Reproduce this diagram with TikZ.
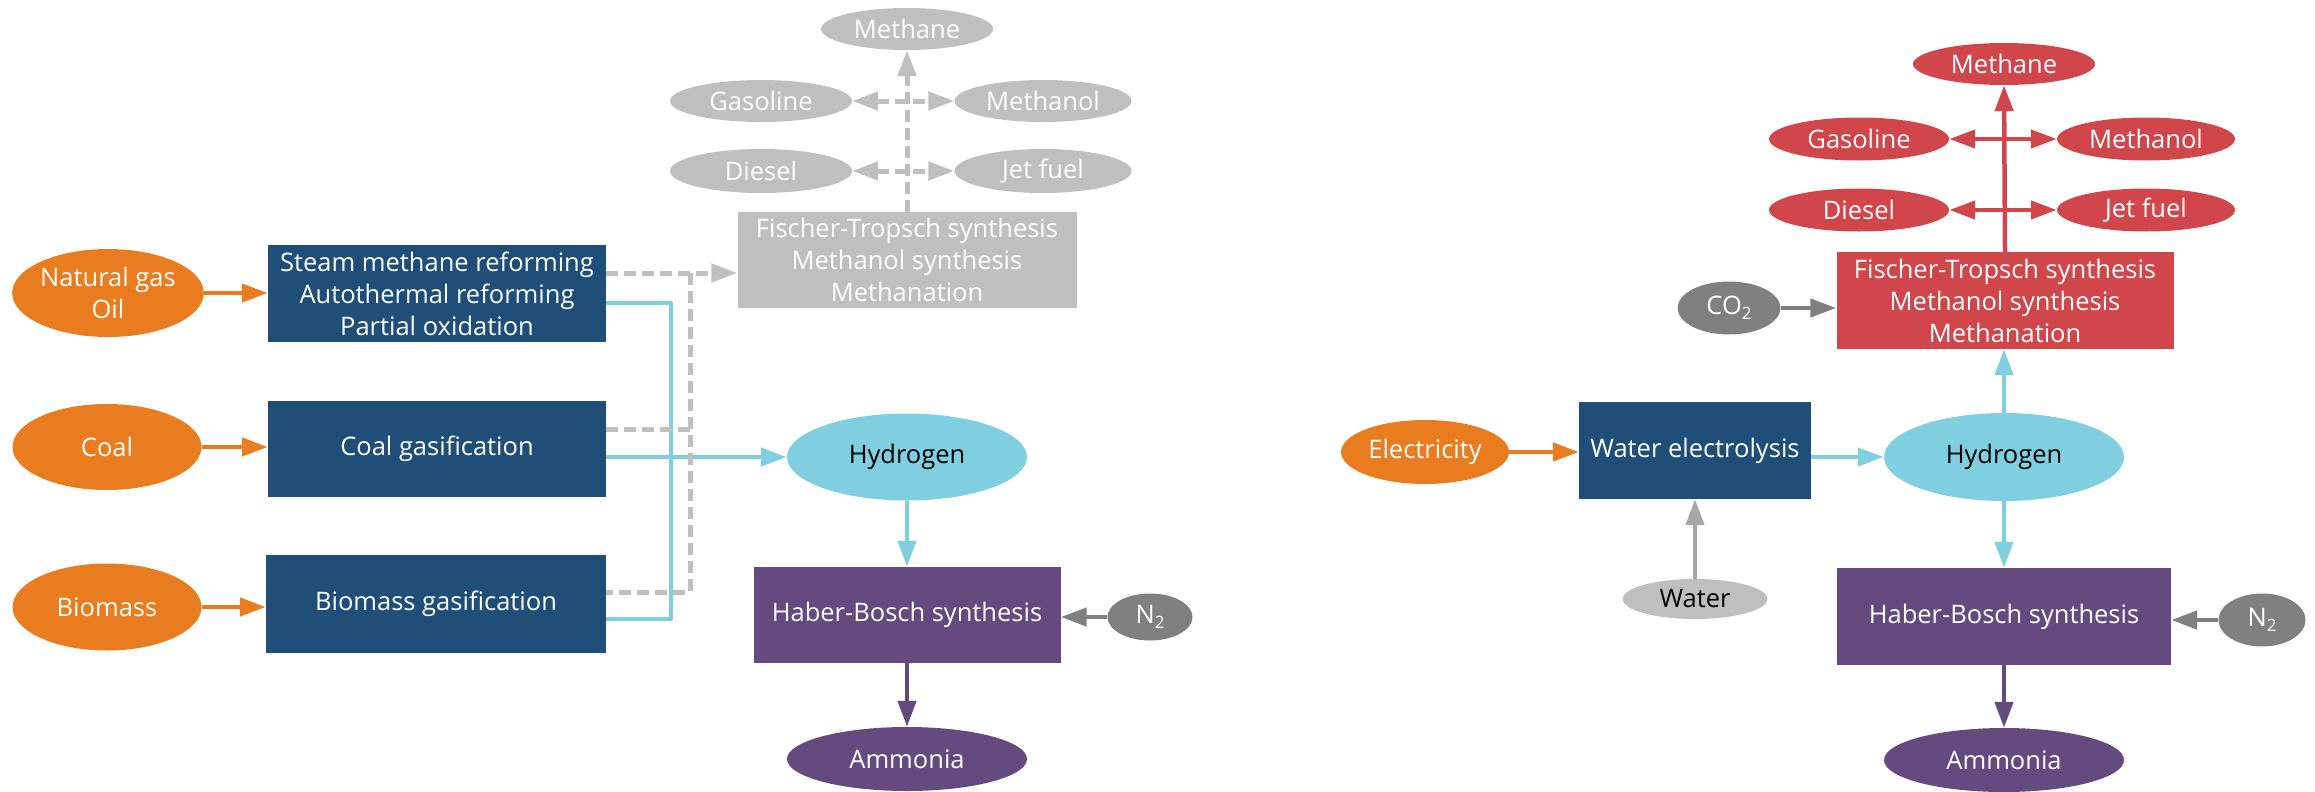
\documentclass[tikz,border=0pt]{standalone}
\usepackage{fontspec}
\setmainfont{Open Sans}
\usetikzlibrary{arrows.meta,shapes.geometric}
\definecolor{orng}{HTML}{E97C1E}
\definecolor{dblue}{HTML}{1F4E79}
\definecolor{lblue}{HTML}{7FCFE1}
\definecolor{purp}{HTML}{644A7E}
\definecolor{redc}{HTML}{D1464B}
\definecolor{lgray}{HTML}{BFBFBF}
\definecolor{mgray}{HTML}{808080}
\definecolor{agray}{HTML}{A6A6A6}
\newcommand{\lowsub}[1]{\raisebox{-0.35ex}{\fontsize{17}{20}\selectfont #1}}
\begin{document}
\begin{tikzpicture}[x=1pt,y=-1pt,
  every node/.style={font=\fontsize{25.5}{32}\selectfont, align=center, inner sep=0pt},
  oval/.style={ellipse, text=white},
  box/.style={rectangle, text=white},
  sz/.style 2 args={minimum width=#1pt, minimum height=#2pt},
  tip/.style={-{Triangle[length=26pt,width=18pt]}},
  btip/.style={{Triangle[length=26pt,width=18pt]}-{Triangle[length=26pt,width=18pt]}},
  ln/.style={line width=4.5pt},
  gdash/.style={line width=5pt, lgray, dash pattern=on 12pt off 6pt}]
\useasboundingbox (0,0) rectangle (2315,792);

% ---------- left panel ----------
\node[oval, fill=orng, sz={191}{88}] (ng) at (108,293) {Natural gas\\Oil};
\node[oval, fill=orng, sz={189}{86}] (coal) at (107,447) {Coal};
\node[oval, fill=orng, sz={189}{87}] (bio) at (107,607) {Biomass};

\node[box, fill=dblue, sz={338}{97}] (smr) at (437,293.5) {Steam methane reforming\\Autothermal reforming\\Partial oxidation};
\node[box, fill=dblue, sz={338}{96}] (cg) at (437,449) {Coal gasification};
\node[box, fill=dblue, sz={340}{98}] (bg) at (436,604) {Biomass gasification};

\node[box, fill=lgray, sz={339}{96}] (ftl) at (907,260) {Fischer-Tropsch synthesis\\Methanol synthesis\\Methanation};
\node[oval, fill=lgray, sz={172}{42}] (mel) at (907,29) {Methane};
\node[oval, fill=lgray, sz={182}{42}] (gal) at (761,101) {Gasoline};
\node[oval, fill=lgray, sz={177}{42}] (mol) at (1043,101) {Methanol};
\node[oval, fill=lgray, sz={182}{44}] (dil) at (761,171) {Diesel};
\node[oval, fill=lgray, sz={177}{44}] (jfl) at (1043,171) {Jet fuel};

\node[oval, fill=lblue, text=black, sz={240}{87}] (h2l) at (907,457) {Hydrogen};
\node[box, fill=purp, sz={307}{96}] (hbl) at (907,615) {Haber-Bosch synthesis};
\node[oval, fill=mgray, sz={85}{47}] (n2l) at (1150,617) {N\lowsub{2}};
\node[oval, fill=purp, sz={240}{64}] (aml) at (907,759) {Ammonia};

\coordinate (bj1) at (671,303);
\coordinate (bj2) at (671,619);
\coordinate (gj1) at (690,273);
\coordinate (gj2) at (690,592);
\coordinate (gj3) at (690,429);

\draw[ln, orng, tip] (ng.east) -- (ng.east -| smr.west);
\draw[ln, orng, tip] (coal.east) -- (coal.east -| cg.west);
\draw[ln, orng, tip] (bio.east) -- (bio.east -| bg.west);

\draw[ln, lblue, line join=round] (smr.east |- bj1) -- (bj1) -- (bj2) -- (bg.east |- bj2);
\draw[ln, lblue, tip] (cg.east |- h2l.west) -- (h2l.west);

\draw[gdash, tip] (smr.east |- gj1) -- (ftl.west |- gj1);
\draw[gdash] (gj1) -- (gj2) -- (bg.east |- gj2);
\draw[gdash] (cg.east |- gj3) -- (gj3);

\draw[gdash, tip] (ftl.north) -- (mel.south);
\draw[gdash, btip] (gal.east) -- (mol.west);
\draw[gdash, btip] (dil.east) -- (jfl.west);

\draw[ln, lblue, tip] (h2l.south) -- (hbl.north);
\draw[ln, purp, tip] (hbl.south) -- (aml.north);
\draw[ln, mgray, tip] (n2l.west) -- (n2l.west -| hbl.east);

% ---------- right panel ----------
\node[oval, fill=orng, sz={168}{64}] (elec) at (1425,452) {Electricity};
\node[box, fill=dblue, sz={232}{97}] (we) at (1695,450.5) {Water electrolysis};
\node[oval, fill=lgray, text=black, sz={145}{40}] (water) at (1695,599) {Water};
\node[oval, fill=lblue, text=black, sz={240}{88}] (h2r) at (2004,457) {Hydrogen};

\node[box, fill=redc, sz={337}{97}] (ftr) at (2005,300.5) {Fischer-Tropsch synthesis\\Methanol synthesis\\Methanation};
\node[oval, fill=mgray, sz={103}{53}] (co2) at (1729,308) {CO\lowsub{2}};
\node[oval, fill=redc, sz={182}{42}] (mer) at (2004,64) {Methane};
\node[oval, fill=redc, sz={180}{43}] (gar) at (1859,139) {Gasoline};
\node[oval, fill=redc, sz={178}{43}] (mor) at (2146,139) {Methanol};
\node[oval, fill=redc, sz={180}{43}] (dir) at (1859,210) {Diesel};
\node[oval, fill=redc, sz={178}{43}] (jfr) at (2146,210) {Jet fuel};

\node[box, fill=purp, sz={334}{97}] (hbr) at (2004,616.5) {Haber-Bosch synthesis};
\node[oval, fill=mgray, sz={87}{53}] (n2r) at (2262,620) {N\lowsub{2}};
\node[oval, fill=purp, sz={240}{64}] (amr) at (2004,760) {Ammonia};

\draw[ln, orng, tip] (elec.east) -- (elec.east -| we.west);
\draw[ln, agray, tip] (water.north) -- (we.south);
\draw[ln, lblue, tip] (we.east |- h2r.west) -- (h2r.west);
\draw[ln, lblue, tip] (h2r.north) -- (h2r.north |- ftr.south);
\draw[ln, mgray, tip] (co2.east) -- (co2.east -| ftr.west);
\draw[ln, redc, tip] (ftr.north) -- (mer.south);
\draw[ln, redc, btip] (gar.east) -- (mor.west);
\draw[ln, redc, btip] (dir.east) -- (jfr.west);
\draw[ln, lblue, tip] (h2r.south) -- (hbr.north);
\draw[ln, purp, tip] (hbr.south) -- (amr.north);
\draw[ln, mgray, tip] (n2r.west) -- (n2r.west -| hbr.east);
\end{tikzpicture}
\end{document}
